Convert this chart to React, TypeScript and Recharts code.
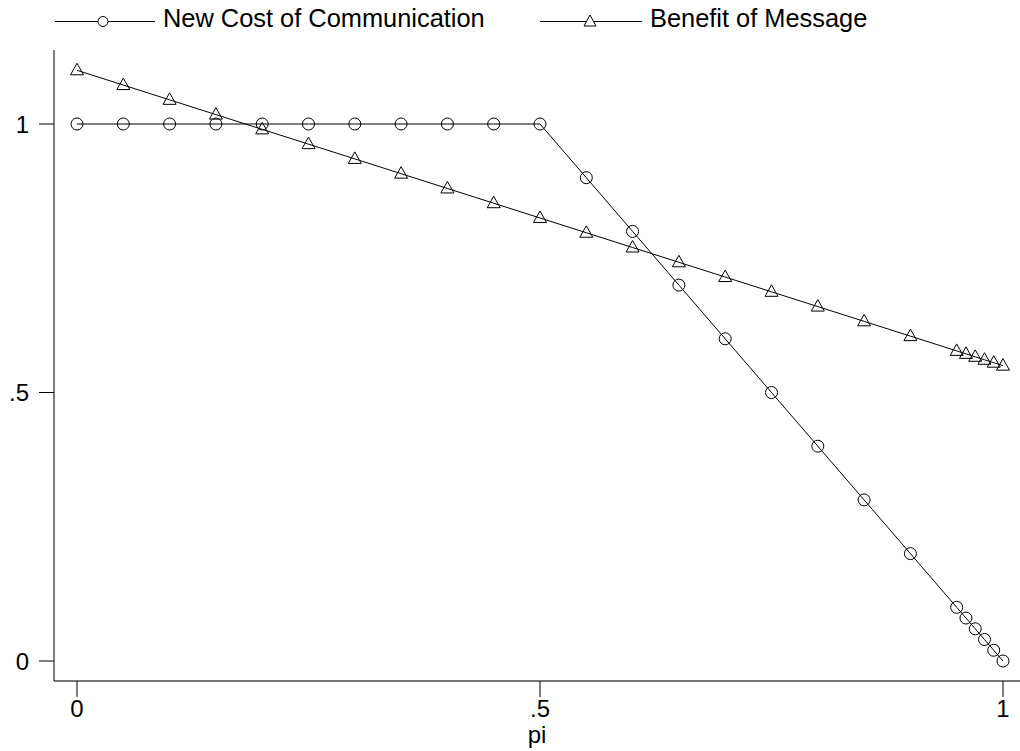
import { Legend, Line, LineChart, XAxis, YAxis } from 'recharts';

const piValues = [
  0, 0.05, 0.1, 0.15, 0.2, 0.25, 0.3, 0.35, 0.4, 0.45, 0.5, 0.55, 0.6, 0.65, 0.7, 0.75, 0.8,
  0.85, 0.9, 0.95, 0.96, 0.97, 0.98, 0.99, 1,
];
const costValues = [
  1, 1, 1, 1, 1, 1, 1, 1, 1, 1, 1, 0.9, 0.8, 0.7, 0.6, 0.5, 0.4, 0.3, 0.2, 0.1, 0.08, 0.06,
  0.04, 0.02, 0,
];
const benefitValues = [
  1.1, 1.0725, 1.045, 1.0175, 0.99, 0.9625, 0.935, 0.9075, 0.88, 0.8525, 0.825, 0.7975, 0.77,
  0.7425, 0.715, 0.6875, 0.66, 0.6325, 0.605, 0.5775, 0.572, 0.5665, 0.561, 0.5555, 0.55,
];
const tickValues = [0, 0.5, 1];
const tickLabels = ['0', '.5', '1'];

const FONT = '"Liberation Sans", Arial, Helvetica, sans-serif';

const data = piValues.map((pi, i) => ({
  pi,
  cost: costValues[i],
  benefit: benefitValues[i],
}));

const fmt = (v: number) => tickLabels[tickValues.indexOf(v)] ?? String(v);

function CircleDot(props: any) {
  const { cx, cy, index } = props;
  if (cx == null || cy == null) return <g key={`c-${index}`} />;
  return <circle key={`c-${index}`} cx={cx} cy={cy} r={6} fill="none" stroke="#000" strokeWidth={1} />;
}

function TriangleDot(props: any) {
  const { cx, cy, index } = props;
  if (cx == null || cy == null) return <g key={`t-${index}`} />;
  return (
    <path
      key={`t-${index}`}
      d={`M${cx},${cy - 7}L${cx + 6.5},${cy + 4.5}L${cx - 6.5},${cy + 4.5}Z`}
      fill="none"
      stroke="#000"
      strokeWidth={1}
    />
  );
}

// legend item placement by series (line start/end, marker x, text x)
const legendPos: Record<string, { x1: number; x2: number; mx: number; tx: number }> = {
  cost: { x1: 55, x2: 155, mx: 103, tx: 163 },
  benefit: { x1: 540, x2: 642, mx: 590, tx: 650 },
};

function LegendContent({ payload }: any) {
  return (
    <svg width={1020} height={40}>
      {(payload ?? []).map((entry: any) => {
        const p = legendPos[entry.dataKey];
        if (!p) return null;
        const y = 21.5;
        return (
          <g key={entry.dataKey}>
            <line x1={p.x1} x2={p.x2} y1={y} y2={y} stroke="#000" strokeWidth={1} />
            {entry.dataKey === 'cost' ? (
              <circle cx={p.mx} cy={y} r={5} fill="#fff" stroke="#000" />
            ) : (
              <path
                d={`M${p.mx},${y - 6.5}L${p.mx + 6},${y + 4.5}L${p.mx - 6},${y + 4.5}Z`}
                fill="#fff"
                stroke="#000"
              />
            )}
            <text x={p.tx} y={27} fontSize={25.4} fontFamily={FONT} fill="#000">
              {entry.value}
            </text>
          </g>
        );
      })}
    </svg>
  );
}

export default function App() {
  return (
    <div style={{ position: 'absolute', left: 0, top: 0, width: 1020, height: 751, background: '#fff' }}>
      <LineChart
        width={1020}
        height={751}
        data={data}
        margin={{ top: 50, right: 0, bottom: 0, left: 0 }}
        style={{ fontFamily: FONT }}
      >
        <XAxis
          dataKey="pi"
          type="number"
          domain={[-0.02484, 1.01836]}
          allowDataOverflow
          ticks={tickValues}
          tickFormatter={fmt}
          height={70}
          tickSize={16}
          tickMargin={3}
          axisLine={{ stroke: '#777', strokeWidth: 2 }}
          tickLine={{ stroke: '#000' }}
          tick={{ fill: '#000', fontSize: 24 }}
          label={{ value: 'pi', position: 'insideBottom', offset: 8, fill: '#000', fontSize: 24 }}
        />
        <YAxis
          type="number"
          domain={[-0.03724, 1.1378]}
          allowDataOverflow
          ticks={tickValues}
          tickFormatter={fmt}
          width={54}
          tickSize={15}
          tickMargin={10}
          axisLine={{ stroke: '#000' }}
          tickLine={{ stroke: '#000' }}
          tick={{ fill: '#000', fontSize: 24 }}
        />
        <Legend
          layout="vertical"
          align="center"
          verticalAlign="middle"
          wrapperStyle={{ top: 0, left: 0, width: 1020, height: 40 }}
          content={<LegendContent />}
        />
        <Line
          dataKey="cost"
          name="New Cost of Communication"
          stroke="#000"
          strokeWidth={1}
          dot={CircleDot}
          activeDot={false}
          isAnimationActive={false}
        />
        <Line
          dataKey="benefit"
          name="Benefit of Message"
          stroke="#000"
          strokeWidth={1}
          dot={TriangleDot}
          activeDot={false}
          isAnimationActive={false}
        />
      </LineChart>
    </div>
  );
}
